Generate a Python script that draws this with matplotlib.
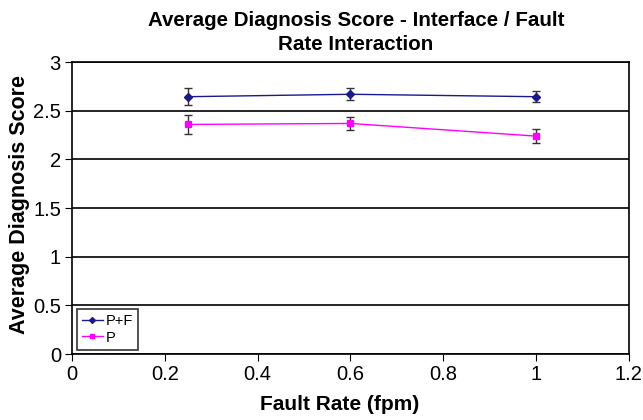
import matplotlib
matplotlib.use("Agg")
import matplotlib.pyplot as plt
from matplotlib.lines import Line2D

plt.rcParams['font.family'] = ['Liberation Sans', 'DejaVu Sans']

fault_rate = [0.25, 0.6, 1.0]
pf_values = [2.645, 2.67, 2.645]
pf_err = [0.085, 0.06, 0.055]
p_values = [2.36, 2.37, 2.24]
p_err = [0.10, 0.07, 0.07]

pf_color = '#1a1a8c'
p_color = '#ff00ff'

fig = plt.figure(figsize=(6.43, 4.2), dpi=100)
ax = fig.add_axes([0.112, 0.157, 0.866, 0.695])

ax.errorbar(fault_rate, pf_values, yerr=pf_err, color=pf_color, lw=1.0,
            marker='D', ms=4, ecolor='#333333', elinewidth=1.0, capsize=3)
ax.errorbar(fault_rate, p_values, yerr=p_err, color=p_color, lw=1.0,
            marker='s', ms=4, ecolor='#333333', elinewidth=1.0, capsize=3)

ax.set_xlim(0, 1.2)
ax.set_ylim(0, 3)
ax.set_xticks([0, 0.2, 0.4, 0.6, 0.8, 1.0, 1.2])
ax.set_xticklabels(['0', '0.2', '0.4', '0.6', '0.8', '1', '1.2'])
ax.set_yticks([0, 0.5, 1, 1.5, 2, 2.5, 3])
ax.set_yticklabels(['0', '0.5', '1', '1.5', '2', '2.5', '3'])
ax.yaxis.grid(True, color='black', lw=1.2)
ax.set_axisbelow(True)
for s in ax.spines.values():
    s.set_color('black')
    s.set_linewidth(1.2)
ax.tick_params(labelsize=14.5, direction='out', length=5, color='black', pad=3)

ax.set_xlabel('Fault Rate (fpm)', fontsize=15, fontweight='bold')
ax.xaxis.set_label_coords(0.481, -0.14)
ax.set_ylabel('Average Diagnosis Score', fontsize=15.5, fontweight='bold')
ax.yaxis.set_label_coords(-0.076, 0.514)
ax.set_title('Average Diagnosis Score - Interface / Fault\nRate Interaction',
             fontsize=14.8, fontweight='bold', pad=9, x=0.51, linespacing=1.3)

handles = [Line2D([], [], color=pf_color, marker='D', ms=3, lw=1.0),
           Line2D([], [], color=p_color, marker='s', ms=3.5, lw=1.0)]
leg = ax.legend(handles, ['P+F', 'P'], loc='lower left', fontsize=10.5, frameon=True,
                fancybox=False, edgecolor='black', handlelength=1.4, borderpad=0.35,
                labelspacing=0.15, handletextpad=0.2, borderaxespad=0,
                bbox_to_anchor=(0.009, 0.015))
leg.get_frame().set_linewidth(1.2)

fig.savefig('out.png', dpi=100)
